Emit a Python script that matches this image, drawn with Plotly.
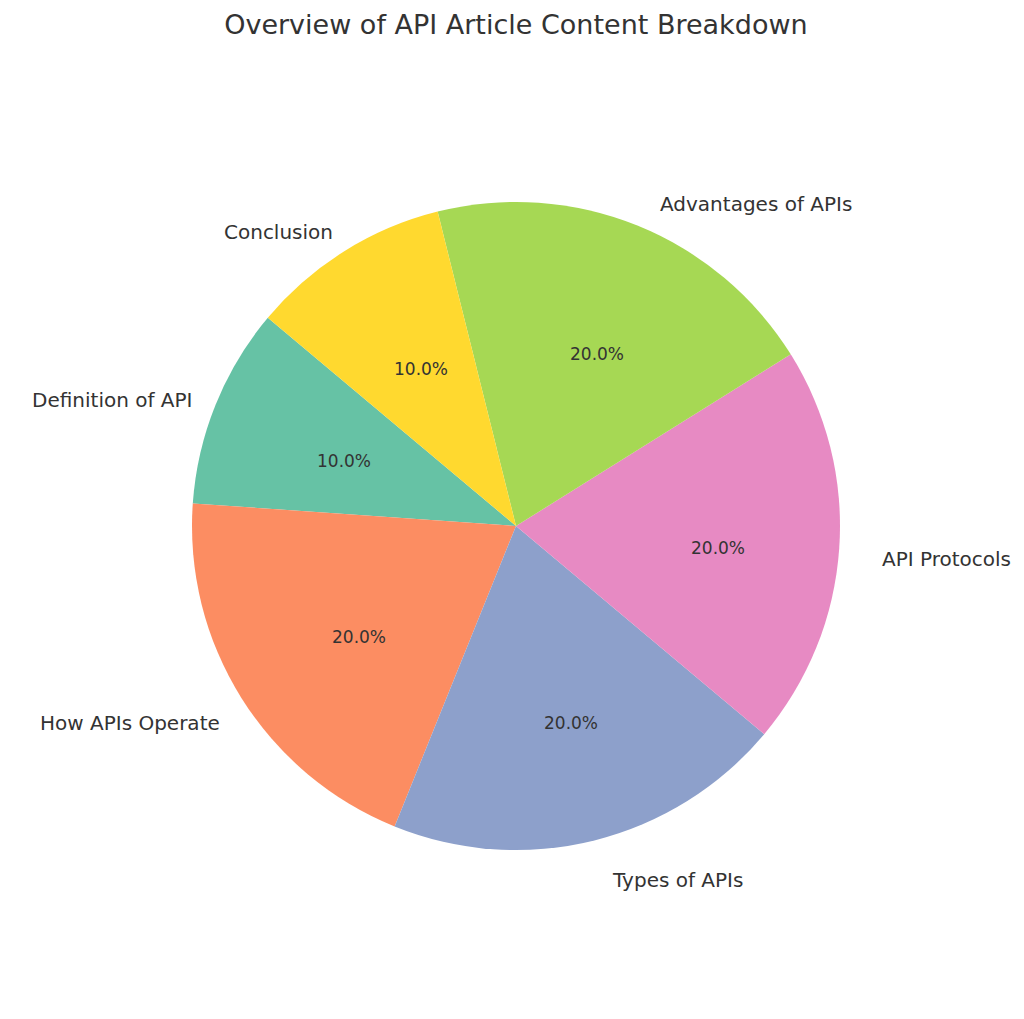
import math
import plotly.graph_objects as go

labels = ["Definition of API", "How APIs Operate", "Types of APIs", "API Protocols", "Advantages of APIs", "Conclusion"]
values = [10, 20, 20, 20, 20, 10]
colors = ["#66c2a5", "#fc8d62", "#8da0cb", "#e78ac3", "#a6d854", "#ffd92f"]
start_angle = 140  # degrees, counterclockwise from east

W, H = 1024, 1019
cx, cy, R = 516, 1019 - 526, 324
dx, dy = -8, 8  # compensation for plotly's internal pie placement

total = sum(values)
first_span = 360 * values[0] / total

fig = go.Figure(go.Pie(
    labels=labels, values=values, sort=False, direction="counterclockwise",
    rotation=90 - start_angle - first_span, marker=dict(colors=colors, line=dict(width=0)),
    textinfo="none", hoverinfo="label+percent", showlegend=False,
    domain=dict(x=[(cx + dx - R) / W, (cx + dx + R) / W], y=[(cy + dy - R) / H, (cy + dy + R) / H]),
))

ann = []
a0 = start_angle
for lab, v in zip(labels, values):
    span = 360 * v / total
    mid = math.radians(a0 + span / 2)
    a0 += span
    c, s = math.cos(mid), math.sin(mid)
    ann.append(dict(x=(cx + 1.1 * R * c) / W, y=(cy + 1.1 * R * s) / H, xref="paper", yref="paper",
                    text=lab, showarrow=False, xanchor="left" if c > 0 else "right", yanchor="middle",
                    font=dict(size=20, color="#333333")))
    ann.append(dict(x=(cx + 0.6 * R * c) / W, y=(cy + 0.6 * R * s) / H, xref="paper", yref="paper",
                    text=f"{100 * v / total:.1f}%", showarrow=False, xanchor="center", yanchor="middle",
                    font=dict(size=17, color="#333333")))

fig.update_layout(
    width=W, height=H, margin=dict(l=0, r=0, t=0, b=0),
    paper_bgcolor="white", font=dict(family="DejaVu Sans", color="#333333"),
    title=dict(text="Overview of API Article Content Breakdown", x=0.496, xanchor="center",
               y=1 - 17 / H, yanchor="middle", font=dict(size=27, color="#333333")),
    annotations=ann,
)
fig.write_html("out.html")
